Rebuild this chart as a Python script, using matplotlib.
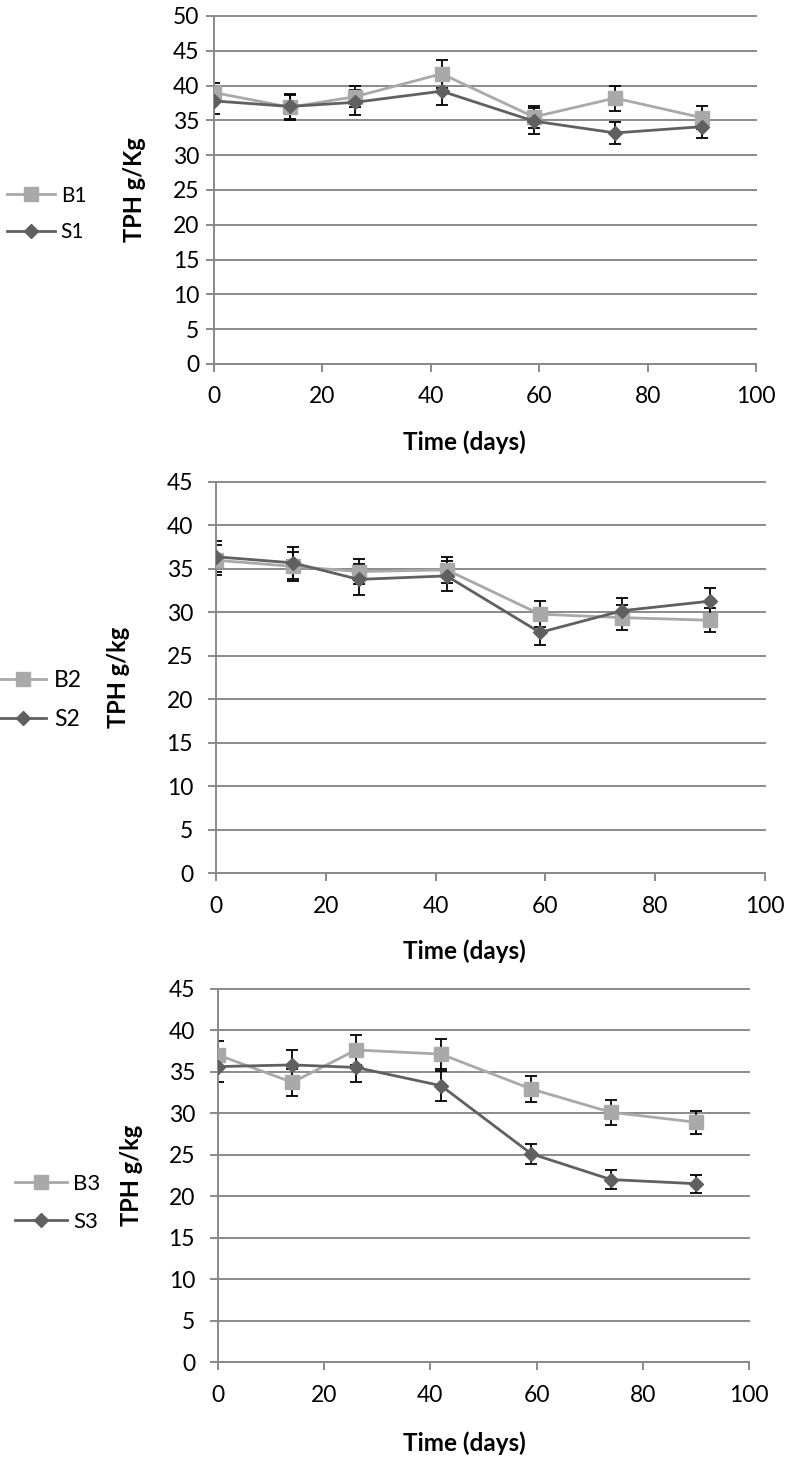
import matplotlib
matplotlib.use("Agg")
import matplotlib.pyplot as plt

plt.rcParams['font.family'] = ['Lato', 'DejaVu Sans']

days = [0, 14, 26, 42, 59, 74, 90]

b1 = [39.0, 36.9, 38.4, 41.7, 35.5, 38.2, 35.4]
b1_err = [1.4, 1.8, 1.5, 2.0, 1.6, 1.8, 1.7]
s1 = [37.8, 37.0, 37.6, 39.2, 34.9, 33.2, 34.1]
s1_err = [1.9, 1.8, 1.8, 2.0, 1.9, 1.6, 1.7]

b2 = [36.0, 35.3, 34.7, 34.9, 29.8, 29.4, 29.1]
b2_err = [1.7, 1.7, 1.4, 1.5, 1.5, 1.4, 1.4]
s2 = [36.4, 35.7, 33.8, 34.2, 27.7, 30.2, 31.3]
s2_err = [1.8, 1.8, 1.8, 1.7, 1.4, 1.5, 1.5]

b3 = [37.0, 33.7, 37.6, 37.1, 32.9, 30.1, 28.9]
b3_err = [1.7, 1.6, 1.8, 1.8, 1.6, 1.5, 1.4]
s3 = [35.6, 35.8, 35.5, 33.3, 25.1, 22.0, 21.5]
s3_err = [1.8, 1.8, 1.8, 1.8, 1.2, 1.1, 1.1]

labels_b = ["B1", "B2", "B3"]
labels_s = ["S1", "S2", "S3"]
ylabels = ["TPH g/Kg", "TPH g/kg", "TPH g/kg"]
ymax = [50, 45, 45]

W, H = 786, 1457
fig = plt.figure(figsize=(W / 100, H / 100), dpi=100)

# plot areas in pixels: left, top, right, bottom
boxes = [(214, 16, 756, 364), (216, 482, 765, 873.3), (218, 988.5, 749, 1362.3)]
ylab_x = [146, 130, 143]
xlab = [(464, 430), (464, 939), (464, 1431)]
ytick_pad = [5, 11, 11]
leg = [(7, 214, 15, 2.3, 0.28), (0, 700, 16.5, 2.0, 0.35), (15, 1203, 16, 2.35, 0.28)]

grid_c = '#8a8a8a'
b_col = '#a9a9a9'
s_col = '#606060'

bs = [(b1, b1_err), (b2, b2_err), (b3, b3_err)]
ss = [(s1, s1_err), (s2, s2_err), (s3, s3_err)]

for i in range(3):
    l, t, r, b = boxes[i]
    ax = fig.add_axes([l / W, 1 - b / H, (r - l) / W, (b - t) / H])
    yb, eb = bs[i]
    ys, es = ss[i]
    ax.errorbar(days, yb, yerr=eb, fmt='none', ecolor='black', elinewidth=1.3,
                capsize=4, capthick=1.3, zorder=2.5)
    ax.errorbar(days, ys, yerr=es, fmt='none', ecolor='black', elinewidth=1.3,
                capsize=4, capthick=1.3, zorder=2.5)
    ax.plot(days, yb, color=b_col, lw=2, marker='s', ms=10, mec=b_col, label=labels_b[i], zorder=3)
    ax.plot(days, ys, color=s_col, lw=2, marker='D', ms=7.5, mec=s_col, label=labels_s[i], zorder=3.1)

    ax.set_xlim(0, 100)
    ax.set_ylim(0, ymax[i])
    ax.set_xticks(range(0, 101, 20))
    ax.set_yticks(range(0, ymax[i] + 1, 5))
    ax.grid(axis='y', color=grid_c, lw=1.4)
    for gl in ax.get_ygridlines():
        gl.set_clip_on(False)
    ax.set_axisbelow(True)
    for sp in ['top', 'right']:
        ax.spines[sp].set_visible(False)
    for sp in ['left', 'bottom']:
        ax.spines[sp].set_color(grid_c)
        ax.spines[sp].set_linewidth(1.4)
    ax.tick_params(axis='x', direction='out', length=6, width=1.4, color=grid_c,
                   labelsize=16.5, pad=10)
    ax.tick_params(axis='y', direction='out', length=5.5, width=1.4, color=grid_c,
                   labelsize=16.5, pad=ytick_pad[i])

    ax.set_ylabel(ylabels[i], fontsize=17, fontweight='bold')
    ax.yaxis.set_label_coords((ylab_x[i] - l) / (r - l), 0.5)
    ax.set_xlabel("Time (days)", fontsize=17.5, fontweight='bold', va='top')
    ax.xaxis.set_label_coords((xlab[i][0] - l) / (r - l), (b - xlab[i][1]) / (b - t))

    lx, ly, fs, hl, htp = leg[i]
    ax.legend(loc='center left', bbox_to_anchor=(lx / W, 1 - ly / H),
              bbox_transform=fig.transFigure, frameon=False, fontsize=fs,
              handlelength=hl, handletextpad=htp, labelspacing=0.8,
              borderpad=0, borderaxespad=0)

plt.savefig("out.png", dpi=100)
